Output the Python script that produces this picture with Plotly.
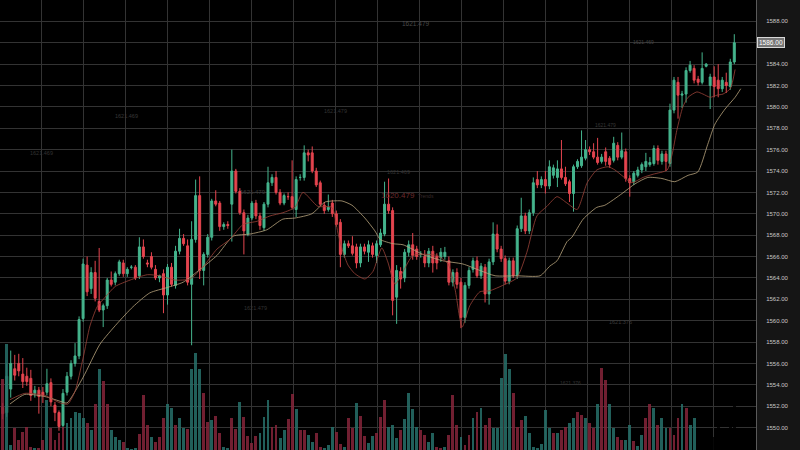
import plotly.graph_objects as go

# candle values, left to right
open_ = [1551.9, 1551.4, 1553.6, 1555.5, 1556.0, 1555.0, 1554.8, 1554.6, 1553.2, 1553.5,
         1553.3, 1553.3, 1554.2, 1552.1, 1551.4, 1550.2, 1553.3, 1554.8, 1556.0, 1556.7,
         1560.2, 1565.2, 1563.0, 1564.5, 1561.8, 1561.0, 1561.4, 1563.8, 1563.6, 1564.4,
         1565.4, 1564.4, 1565.0, 1565.0, 1564.2, 1566.9, 1565.4, 1566.0, 1564.8, 1564.0,
         1564.4, 1562.4, 1565.0, 1563.3, 1566.5, 1567.7, 1567.0, 1563.4, 1567.6, 1571.7,
         1564.7, 1566.2, 1567.8, 1571.2, 1571.0, 1568.8, 1569.0, 1570.9, 1574.0, 1572.1,
         1570.1, 1568.1, 1569.6, 1571.0, 1569.8, 1568.7, 1570.9, 1572.9, 1573.4, 1572.0,
         1571.0, 1571.6, 1571.6, 1570.4, 1573.4, 1573.4, 1575.7, 1575.7, 1574.0, 1572.9,
         1570.8, 1570.4, 1571.0, 1570.0, 1569.2, 1566.2, 1567.2, 1567.0, 1566.9, 1565.4,
         1566.9, 1566.4, 1567.0, 1566.1, 1567.1, 1568.1, 1570.9, 1570.3, 1562.2, 1564.6,
         1564.0, 1566.4, 1567.1, 1566.7, 1566.2, 1566.0, 1565.4, 1566.5, 1566.0, 1565.9,
         1566.0, 1565.6, 1563.6, 1564.5, 1563.6, 1560.3, 1563.3, 1564.8, 1565.6, 1564.2,
         1565.0, 1562.5, 1565.5, 1568.1, 1566.7, 1565.8, 1563.7, 1565.6, 1564.2, 1568.6,
         1569.8, 1568.4, 1570.1, 1573.2, 1572.7, 1573.2, 1572.6, 1573.6, 1573.4, 1574.2,
         1573.4, 1573.0, 1571.9, 1574.4, 1574.5, 1575.2, 1576.0, 1575.8, 1575.3, 1574.9,
         1575.8, 1575.2, 1575.0, 1576.4, 1575.3, 1575.8, 1573.3, 1573.0, 1573.6, 1574.1,
         1574.4, 1574.6, 1574.7, 1576.1, 1574.9, 1575.6, 1574.7, 1579.7, 1582.3, 1581.1,
         1581.2, 1583.4, 1583.6, 1582.6, 1582.3, 1583.8, 1582.0, 1582.8, 1582.5, 1581.7,
         1582.3, 1581.9, 1584.2]
high = [1552.3, 1556.0, 1557.2, 1556.8, 1556.9, 1556.5, 1555.6, 1555.4, 1553.9, 1553.8,
        1553.8, 1555.5, 1554.6, 1552.4, 1551.6, 1553.6, 1555.2, 1556.3, 1557.9, 1560.4,
        1565.8, 1566.0, 1565.0, 1565.6, 1566.8, 1561.6, 1564.0, 1564.6, 1564.6, 1565.7,
        1565.7, 1565.0, 1565.2, 1565.2, 1567.8, 1567.6, 1565.7, 1566.4, 1565.2, 1564.3,
        1564.8, 1565.3, 1565.4, 1567.0, 1568.6, 1568.1, 1567.6, 1569.3, 1573.2, 1573.5,
        1566.4, 1568.1, 1571.4, 1572.2, 1571.2, 1569.2, 1569.3, 1576.0, 1574.2, 1572.4,
        1570.4, 1569.9, 1571.2, 1571.3, 1570.1, 1571.1, 1574.4, 1573.7, 1574.0, 1572.3,
        1571.9, 1572.0, 1575.0, 1573.5, 1573.7, 1576.4, 1576.0, 1576.3, 1574.3, 1573.1,
        1571.1, 1571.8, 1571.3, 1570.3, 1569.5, 1567.5, 1567.5, 1567.9, 1567.2, 1567.2,
        1567.2, 1567.5, 1567.3, 1567.5, 1568.6, 1573.0, 1573.3, 1570.6, 1565.2, 1565.0,
        1566.7, 1567.5, 1568.2, 1567.0, 1566.5, 1566.6, 1566.8, 1567.0, 1566.3, 1566.8,
        1566.9, 1566.0, 1564.8, 1564.9, 1564.0, 1563.6, 1565.0, 1565.9, 1566.0, 1565.4,
        1565.3, 1565.8, 1569.2, 1569.0, 1567.0, 1566.1, 1565.9, 1565.9, 1568.9, 1571.5,
        1570.1, 1570.4, 1573.4, 1574.0, 1573.5, 1574.0, 1575.0, 1574.6, 1575.0, 1576.9,
        1574.4, 1573.2, 1574.6, 1575.1, 1577.8, 1576.9, 1576.3, 1576.6, 1577.1, 1575.6,
        1576.2, 1575.4, 1577.2, 1576.7, 1577.6, 1576.1, 1573.6, 1574.0, 1574.4, 1574.8,
        1575.7, 1575.3, 1576.4, 1576.4, 1575.9, 1575.9, 1580.3, 1582.8, 1582.8, 1581.5,
        1583.7, 1584.3, 1583.9, 1582.9, 1585.1, 1584.1, 1583.1, 1583.8, 1584.0, 1582.8,
        1583.2, 1584.5, 1586.8]
low = [1550.8, 1551.0, 1552.8, 1554.4, 1554.8, 1553.7, 1553.9, 1552.5, 1552.8, 1551.3,
       1552.3, 1553.0, 1552.0, 1550.6, 1549.7, 1549.9, 1553.0, 1554.5, 1555.7, 1556.4,
       1559.9, 1562.3, 1562.5, 1561.8, 1560.8, 1559.4, 1561.1, 1563.2, 1563.3, 1564.2,
       1564.1, 1564.1, 1564.8, 1563.8, 1563.9, 1565.8, 1565.0, 1564.8, 1563.8, 1563.6,
       1560.7, 1561.5, 1563.2, 1563.0, 1566.2, 1567.0, 1563.3, 1557.7, 1567.3, 1563.9,
       1563.3, 1565.9, 1567.5, 1570.7, 1568.4, 1568.5, 1568.6, 1567.4, 1571.9, 1569.9,
       1566.2, 1567.9, 1569.4, 1569.5, 1568.5, 1568.4, 1570.6, 1572.6, 1571.8, 1570.8,
       1570.8, 1571.3, 1570.4, 1569.7, 1573.1, 1573.1, 1574.9, 1573.8, 1572.5, 1570.7,
       1570.0, 1570.2, 1569.7, 1568.8, 1565.0, 1565.9, 1566.8, 1566.1, 1564.9, 1565.0,
       1566.2, 1565.5, 1565.9, 1565.4, 1566.9, 1567.9, 1570.0, 1560.5, 1559.7, 1563.0,
       1563.6, 1566.0, 1565.7, 1565.7, 1565.9, 1565.0, 1565.0, 1564.5, 1564.8, 1565.5,
       1565.7, 1563.3, 1563.2, 1563.0, 1559.3, 1559.8, 1563.0, 1564.5, 1564.0, 1563.9,
       1561.7, 1561.5, 1565.2, 1566.4, 1565.5, 1563.4, 1563.4, 1564.0, 1563.9, 1568.3,
       1568.1, 1568.1, 1569.8, 1572.4, 1572.4, 1571.9, 1572.3, 1573.3, 1572.5, 1573.2,
       1572.6, 1571.1, 1570.2, 1574.2, 1574.3, 1575.0, 1575.5, 1575.1, 1574.6, 1574.7,
       1574.5, 1574.3, 1574.8, 1575.0, 1575.1, 1573.0, 1571.6, 1572.7, 1573.4, 1573.8,
       1574.0, 1574.4, 1574.5, 1574.6, 1574.6, 1574.0, 1574.4, 1579.4, 1578.9, 1579.9,
       1580.4, 1583.2, 1582.2, 1582.0, 1582.1, 1583.7, 1579.8, 1580.9, 1580.9, 1581.4,
       1581.3, 1581.6, 1584.0]
close = [1551.3, 1554.8, 1556.0, 1554.9, 1555.3, 1554.3, 1554.3, 1553.0, 1553.5, 1552.9,
         1553.0, 1554.1, 1552.4, 1551.4, 1550.1, 1553.2, 1554.8, 1556.0, 1556.7, 1560.1,
         1565.3, 1562.7, 1564.5, 1562.1, 1561.0, 1561.4, 1563.8, 1563.4, 1564.4, 1565.5,
         1564.4, 1564.8, 1565.0, 1564.0, 1566.9, 1566.0, 1565.3, 1565.0, 1564.0, 1564.2,
         1562.4, 1565.0, 1563.4, 1566.5, 1567.7, 1567.2, 1563.6, 1567.6, 1571.7, 1564.7,
         1566.2, 1567.8, 1571.2, 1570.9, 1568.8, 1569.0, 1568.9, 1574.0, 1572.1, 1570.1,
         1568.4, 1569.6, 1571.0, 1569.8, 1568.9, 1570.9, 1572.9, 1573.4, 1572.0, 1571.0,
         1571.7, 1571.6, 1570.6, 1573.2, 1573.4, 1575.7, 1575.5, 1574.0, 1572.7, 1570.9,
         1570.3, 1570.6, 1570.0, 1569.0, 1566.2, 1567.2, 1567.0, 1566.3, 1565.4, 1566.9,
         1566.5, 1567.1, 1566.2, 1567.2, 1568.2, 1570.9, 1570.3, 1561.9, 1564.7, 1563.9,
         1566.4, 1567.1, 1566.1, 1566.0, 1566.2, 1565.4, 1566.5, 1565.4, 1565.4, 1566.4,
         1566.4, 1563.6, 1564.5, 1563.4, 1560.3, 1563.3, 1564.7, 1565.6, 1564.2, 1565.1,
         1562.5, 1565.5, 1568.1, 1566.7, 1565.8, 1563.7, 1565.6, 1564.2, 1568.6, 1569.8,
         1568.4, 1570.1, 1572.9, 1572.7, 1573.2, 1572.6, 1574.4, 1574.3, 1574.2, 1573.4,
         1572.8, 1571.9, 1574.4, 1574.9, 1575.3, 1576.0, 1575.8, 1575.3, 1574.8, 1575.3,
         1574.9, 1574.6, 1576.6, 1575.3, 1575.9, 1573.3, 1572.9, 1573.8, 1574.1, 1574.6,
         1574.9, 1574.8, 1576.1, 1575.0, 1575.6, 1574.9, 1579.7, 1582.5, 1581.1, 1581.2,
         1583.4, 1583.9, 1582.5, 1582.3, 1583.6, 1584.0, 1582.8, 1581.9, 1581.7, 1582.5,
         1582.0, 1584.2, 1586.0]

volume = [71, 106, 5, 22, 10, 18, 23, 3, 2, 2,
          10, 50, 22, 10, 17, 23, 27, 32, 38, 37,
          32, 27, 20, 46, 81, 69, 46, 20, 13, 10,
          8, 2, 1, 2, 16, 55, 25, 13, 8, 13,
          32, 46, 42, 25, 32, 22, 21, 81, 97, 81,
          57, 28, 30, 34, 17, 3, 2, 32, 21, 48,
          33, 14, 7, 14, 17, 33, 50, 23, 25, 12,
          20, 31, 56, 41, 20, 20, 15, 8, 17, 3,
          2, 5, 23, 18, 6, 3, 32, 22, 47, 34,
          14, 7, 14, 17, 33, 50, 23, 25, 12, 20,
          31, 57, 41, 23, 20, 15, 8, 17, 3, 2,
          3, 15, 55, 25, 13, 5, 15, 32, 38, 42,
          25, 32, 22, 22, 72, 96, 81, 57, 23, 30,
          34, 17, 3, 2, 6, 40, 22, 17, 17, 20,
          23, 27, 32, 38, 35, 32, 27, 22, 46, 82,
          70, 46, 22, 13, 10, 10, 25, 9, 4, 15,
          32, 46, 42, 25, 32, 22, 22, 15, 32, 46,
          42, 25, 32, 22, 20, 2, 10, 13, 25, 9,
          2, 33, 50]
# u = up (teal) bar, d = down (red) bar, as seen in the picture
volume_dir = ("duuddddduddudddduuuu"
              "udududduuuduuuddduddduuduu"
              "duuuddudduuddudddd"
              "uuudduuddud"
              "duudduuudduddudd"
              "uuddduuuduuuuddu"
              "udduddduddududduuuuudd"
              "duuuuuuududduuddudd"
              "udduudduuduudduduuddd"
              "uduu")

# the two moving average lines (candle index, price)
fast_idx = [1.8, 5.5, 10.5, 14.3, 16.2, 18, 20, 21.7, 23.5, 25.5, 28, 31.7, 36, 39,
            42.9, 46.6, 49.8, 53.3, 56.5, 59.8, 63.3, 66.5, 69.7, 72.7, 74.7, 78.4,
            81.9, 83.4, 84.6, 85.9, 87.6, 90.1, 92.1, 94.3, 95.8, 97.6, 99.6, 102.1,
            108, 110.8, 112.5, 114.3, 116.2, 118.7, 121.2, 124.4, 127.9, 130.4, 132.9,
            135.4, 137.9, 140.4, 142.9, 145.4, 147.8, 150.6, 152.3, 154.3, 156.5,
            159.3, 161.8, 165.3, 166.5, 167.7, 169.2, 170.5, 172.7, 174.2, 176, 177.7,
            179.2, 181, 182.2]
fast_val = [1552.6, 1553.2, 1553.0, 1552.3, 1552.2, 1553.4, 1556.5, 1559.5, 1561.3,
            1562.2, 1563.2, 1563.8, 1564.3, 1564.2, 1563.8, 1563.9, 1565.0, 1566.7,
            1567.6, 1569.0, 1569.3, 1569.8, 1570.1, 1570.6, 1572.0, 1570.7, 1570.6,
            1568.2, 1566.5, 1565.2, 1564.4, 1563.9, 1564.6, 1566.8, 1565.5, 1563.4,
            1564.6, 1566.1, 1566.1, 1565.3, 1563.0, 1559.4, 1561.4, 1562.7, 1562.8,
            1563.3, 1564.0, 1566.4, 1569.8, 1570.7, 1571.6, 1571.0, 1570.4, 1572.9,
            1574.1, 1574.4, 1574.1, 1573.5, 1572.9, 1573.4, 1573.7, 1574.1, 1575.5,
            1577.8, 1580.0, 1580.9, 1581.4, 1581.2, 1580.9, 1581.1, 1581.2, 1581.7, 1583.5]
slow_idx = [1.8, 5.5, 10.5, 14.8, 16, 20, 24.2, 28.4, 32.4, 36.6, 40.9, 44.9, 49.1,
            53.3, 57.3, 61.5, 65.7, 69.7, 72.7, 76.9, 80.2, 82.2, 84.4, 86.9, 90.1,
            92.6, 93.9, 97.1, 99.6, 104.5, 109.5, 114.5, 118.7, 122.5, 127.9, 133.7,
            136.1, 137.9, 140.4, 141.6, 144.4, 147.8, 149.8, 154.1, 157.3, 160.5, 164,
            167.2, 170.5, 172.9, 175.4, 177.2, 179.7, 182.2, 183.6]
slow_val = [1552.2, 1553.1, 1552.9, 1552.4, 1552.3, 1554.7, 1557.8, 1559.7, 1561.3,
            1562.6, 1563.1, 1563.6, 1564.8, 1566.1, 1567.9, 1568.1, 1568.5, 1569.5,
            1569.6, 1570.0, 1571.1, 1571.2, 1571.2, 1570.8, 1569.6, 1568.4, 1567.6,
            1567.2, 1567.1, 1566.2, 1565.6, 1565.3, 1564.7, 1564.2, 1564.2, 1564.2,
            1565.1, 1565.6, 1567.4, 1567.8, 1569.5, 1570.6, 1570.8, 1571.9, 1572.8,
            1573.4, 1573.3, 1573.0, 1573.6, 1573.9, 1576.5, 1578.4, 1579.8, 1580.9, 1581.7]

price_ticks = list(range(1550, 1589, 2))
last_price = 1586.00

UP = "#45b48d"
DOWN = "#e5454f"
UP_VOL = "#27706a"
DOWN_VOL = "#85253a"

idx = list(range(len(close)))
vol_colors = [UP_VOL if d == "u" else DOWN_VOL for d in volume_dir]
# the last-price box sits over its own tick, so that tick keeps its gridline but no text
tick_text = ["" if abs(p - last_price) < 0.01 else f"{p:.2f}" for p in price_ticks]

fig = go.Figure()

fig.add_trace(go.Bar(
    x=idx, y=volume, yaxis="y2",
    marker=dict(color=vol_colors, line=dict(width=0)),
    width=0.72, opacity=0.85, hoverinfo="skip",
))

fig.add_trace(go.Scatter(
    x=slow_idx, y=slow_val, mode="lines",
    line=dict(color="#b9a47e", width=0.8, shape="spline", smoothing=0.6),
    hoverinfo="skip",
))
fig.add_trace(go.Scatter(
    x=fast_idx, y=fast_val, mode="lines",
    line=dict(color="#9a4338", width=0.8, shape="spline", smoothing=0.6),
    hoverinfo="skip",
))

fig.add_trace(go.Candlestick(
    x=idx, open=open_, high=high, low=low, close=close,
    increasing=dict(line=dict(color=UP, width=1), fillcolor=UP),
    decreasing=dict(line=dict(color=DOWN, width=1), fillcolor=DOWN),
    whiskerwidth=0,
))

# faint watermark-like numbers scattered over the background
faint = [
    ("1621.479", 415, 18, "#4a4a4a", 6.5),
    ("1621.469", 113, 111, "#383838", 5.5),
    ("1621.469", 28, 148, "#333333", 5.5),
    ("1621.479", 335, 106, "#333333", 5.5),
    ("1621.479", 253, 192, "#3c3c3c", 6),
    ("1621.469", 398, 172, "#333333", 5.5),
    ("1620.479", 398, 195, "#6e2b2d", 8),
    ("Trends", 426, 196, "#3a2c2c", 5),
    ("1621.479", 255, 313, "#333333", 5.5),
    ("1621.469", 656, 37, "#444444", 5),
    ("1621.479", 618, 120, "#363636", 5),
    ("1621.376", 634, 327, "#3a3a3a", 5.5),
    ("1621.376", 583, 388, "#333333", 5),
]
annotations = [
    dict(text=t, x=px / 756, y=1 - py / 450, xref="paper", yref="paper",
         showarrow=False, font=dict(family="Liberation Sans", size=s, color=c))
    for t, px, py, c, s in faint
]
annotations.append(dict(
    text=f"{last_price:.2f}", x=1, y=last_price, xref="paper", yref="y",
    xanchor="left", xshift=1, showarrow=False,
    font=dict(family="Liberation Sans", size=6.5, color="#ffffff"),
    bgcolor="#767676", bordercolor="#d8d8d8", borderwidth=1, borderpad=1,
))

fig.update_layout(
    width=800, height=450,
    margin=dict(l=0, r=44, t=0, b=0),
    paper_bgcolor="#151515",
    plot_bgcolor="#000000",
    showlegend=False,
    bargap=0,
    annotations=annotations,
    xaxis=dict(
        range=[-0.67, 187.4],
        rangeslider=dict(visible=False),
        showgrid=True, gridcolor="#333333", gridwidth=1,
        tickmode="linear", tick0=9.776, dtick=10.448,
        showticklabels=False, zeroline=False, showline=False,
    ),
    yaxis=dict(
        side="right", range=[1547.9, 1590.0],
        tickvals=price_ticks, ticktext=tick_text,
        showgrid=True, gridcolor="#333333", gridwidth=1,
        zeroline=False, showline=True, linecolor="#5a5a5a", linewidth=1,
        ticks="", ticklabelstandoff=8, automargin=False,
        tickfont=dict(family="Liberation Sans", size=6, color="#c8c8c8"),
    ),
    yaxis2=dict(overlaying="y", range=[0, 450], visible=False),
)

# the page's default body margin would shift the 800x450 figure; remove it
fig.write_html("out.html", config={"displayModeBar": False},
               post_script="document.body.style.margin='0';")
